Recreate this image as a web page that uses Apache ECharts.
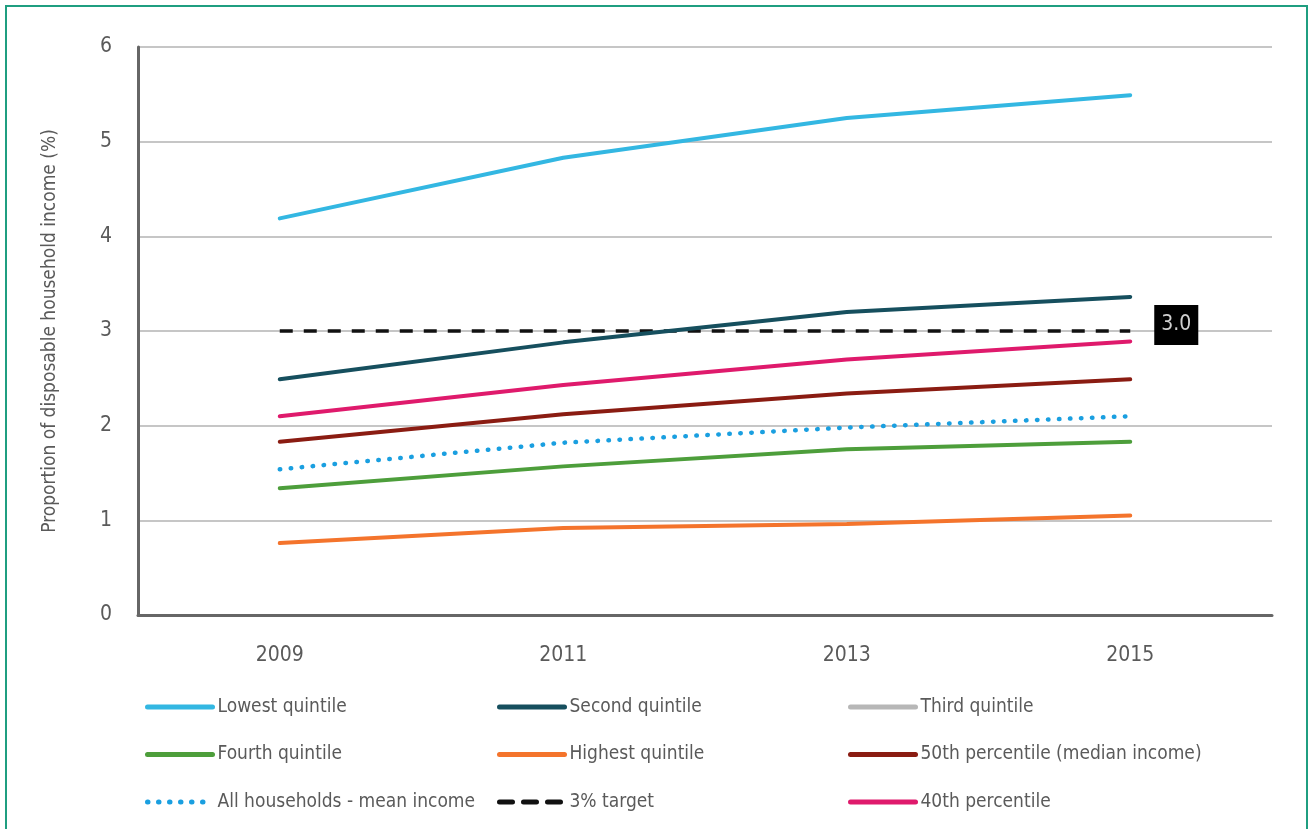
<!DOCTYPE html>
<html>
<head>
<meta charset="utf-8">
<script src="https://cdn.jsdelivr.net/npm/echarts@6/dist/echarts.min.js"></script>
<style>
  html, body { margin: 0; padding: 0; background: #fff; overflow: hidden; }
  #frame { position: absolute; left: 5px; top: 5px; width: 1303px; height: 860px;
           border: 2.5px solid #1f9e80; box-sizing: border-box; }
  #chart { position: absolute; left: 0; top: 0; width: 1316px; height: 829px; }
</style>
</head>
<body>
<div id="frame"></div>
<div id="chart"></div>
<script>
// Survey years
const years = ['2009', '2011', '2013', '2015'];

// Proportion of disposable household income (%) by income group
const lowestQuintile  = [4.19, 4.83, 5.25, 5.49];
const secondQuintile  = [2.49, 2.88, 3.20, 3.36];
const thirdQuintile   = [];
const fourthQuintile  = [1.34, 1.57, 1.75, 1.83];
const highestQuintile = [0.76, 0.92, 0.96, 1.05];
const median50th      = [1.83, 2.12, 2.34, 2.49];
const meanAll         = [1.54, 1.82, 1.98, 2.10];
const target3         = [3.0, 3.0, 3.0, 3.0];
const pct40th         = [2.10, 2.43, 2.70, 2.89];

const yTicks = [0, 1, 2, 3, 4, 5, 6];

const FONT = '"DejaVu Sans Condensed", "Liberation Sans Narrow", sans-serif';
const TXT = '#5a5a5a';

function line(name, data, color, extra) {
  return Object.assign({
    name, type: 'line', data,
    symbol: 'none',
    lineStyle: { color, width: 4, cap: 'round' },
    itemStyle: { color },
    emphasis: { disabled: true }
  }, extra || {});
}

const series = [
  line('Third quintile', thirdQuintile, '#b7b7b7'),
  line('3% target', target3, '#111', {
    lineStyle: { color: '#111', width: 3.5, type: [13, 11] },
    endLabel: {
      show: true,
      formatter: p => Number(p.value).toFixed(1),
      distance: 24,
      offset: [0, -6],
      backgroundColor: '#000',
      color: '#d0d0d0',
      fontFamily: FONT,
      fontSize: 21,
      padding: [10, 7, 9, 7]
    }
  }),
  line('Highest quintile', highestQuintile, '#f4742c'),
  line('Fourth quintile', fourthQuintile, '#4d9e3b'),
  line('All households - mean income', meanAll, '#1a9fe0', {
    lineStyle: { color: '#1a9fe0', width: 4.5, type: [0.5, 10.5], cap: 'round' }
  }),
  line('50th percentile (median income)', median50th, '#8a1c12'),
  line('40th percentile', pct40th, '#df1a6c'),
  line('Second quintile', secondQuintile, '#164f5e'),
  line('Lowest quintile', lowestQuintile, '#33b7e2')
];

function legendCol(left, names) {
  return {
    data: names,
    orient: 'vertical',
    left, top: 697,
    padding: 0,
    itemWidth: 65, itemHeight: 20, itemGap: 27.5,
    selectedMode: false,
    itemStyle: { opacity: 0 },
    lineStyle: { width: 5, cap: 'round' },
    textStyle: { fontFamily: FONT, fontSize: 19, color: TXT, lineHeight: 20 }
  };
}

const chart = echarts.init(document.getElementById('chart'));
chart.setOption({
  animation: false,
  grid: { left: 138, top: 47, right: 44, bottom: 214, containLabel: false },
  legend: [
    legendCol(145, ['Lowest quintile', 'Fourth quintile', 'All households - mean income']),
    legendCol(497, ['Second quintile', 'Highest quintile', '3% target']),
    legendCol(848, ['Third quintile', '50th percentile (median income)', '40th percentile'])
  ],
  xAxis: {
    type: 'category',
    data: years,
    boundaryGap: true,
    axisLine: { lineStyle: { color: '#666', width: 3 } },
    axisTick: { show: false },
    axisLabel: { fontFamily: FONT, fontSize: 21, color: TXT, margin: 30 }
  },
  yAxis: {
    type: 'value',
    min: yTicks[0], max: yTicks[yTicks.length - 1], interval: 1,
    name: 'Proportion of disposable household income (%)',
    nameLocation: 'middle',
    nameGap: 78,
    nameTextStyle: { fontFamily: FONT, fontSize: 19, color: TXT },
    axisLine: { show: true, lineStyle: { color: '#666', width: 3 } },
    axisTick: { show: false },
    axisLabel: { fontFamily: FONT, fontSize: 21, color: TXT, margin: 26 },
    splitLine: { lineStyle: { color: '#c6c6c6', width: 2 } }
  },
  series
});
</script>
</body>
</html>
